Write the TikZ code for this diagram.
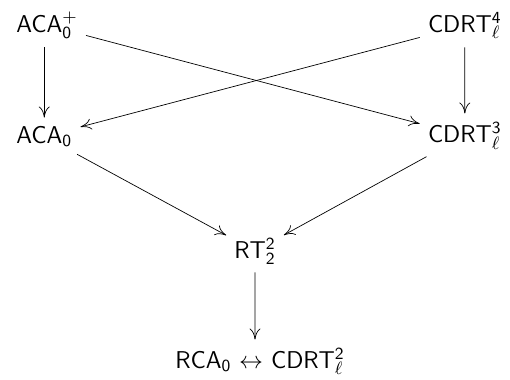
\documentclass[tikz,border=0pt]{standalone}
\usepackage{fontspec}
\usetikzlibrary{arrows.meta}
\begin{document}
\begin{tikzpicture}[scale=0.1764]
\tikzstyle{every node}+=[inner sep=3pt, font=\sffamily\fontsize{12.2}{14}\selectfont]
\tikzstyle{impl}=[black, line width=0.35pt, -{To[length=5.5pt,width=5.5pt]}, shorten <=1pt, shorten >=1pt]
\useasboundingbox (0,0) rectangle (51,-38);
\node [anchor=base west] (acaplus) at (1.0,-3.2) {ACA$_{\mathsf{0}}^{+}$};
\node [anchor=base east] (cdrtfour) at (50.8,-3.2) {CDRT$_{\ell}^{\mathsf{4}}$};
\node [anchor=base west] (aca) at (1.0,-14.3) {ACA$_{\mathsf{0}}$};
\node [anchor=base east] (cdrtthree) at (50.8,-14.2) {CDRT$_{\ell}^{\mathsf{3}}$};
\node [anchor=base] (rt) at (25.5,-25.8) {RT$_{\mathsf{2}}^{\mathsf{2}}$};
\node [anchor=base] (bottom) at (26.0,-36.8) {RCA$_{\mathsf{0}}$ $\leftrightarrow$ CDRT$_{\ell}^{\mathsf{2}}$};
\draw [impl] (aca.north |- acaplus.south) -- (aca.north);
\draw [impl] (cdrtfour) -- (cdrtthree);
\draw [impl] (acaplus) -- (cdrtthree);
\draw [impl] (cdrtfour) -- (aca);
\draw [impl] (aca) -- (rt);
\draw [impl] (cdrtthree) -- (rt);
\draw [impl] (rt) -- (rt |- bottom.north);
\end{tikzpicture}
\end{document}
